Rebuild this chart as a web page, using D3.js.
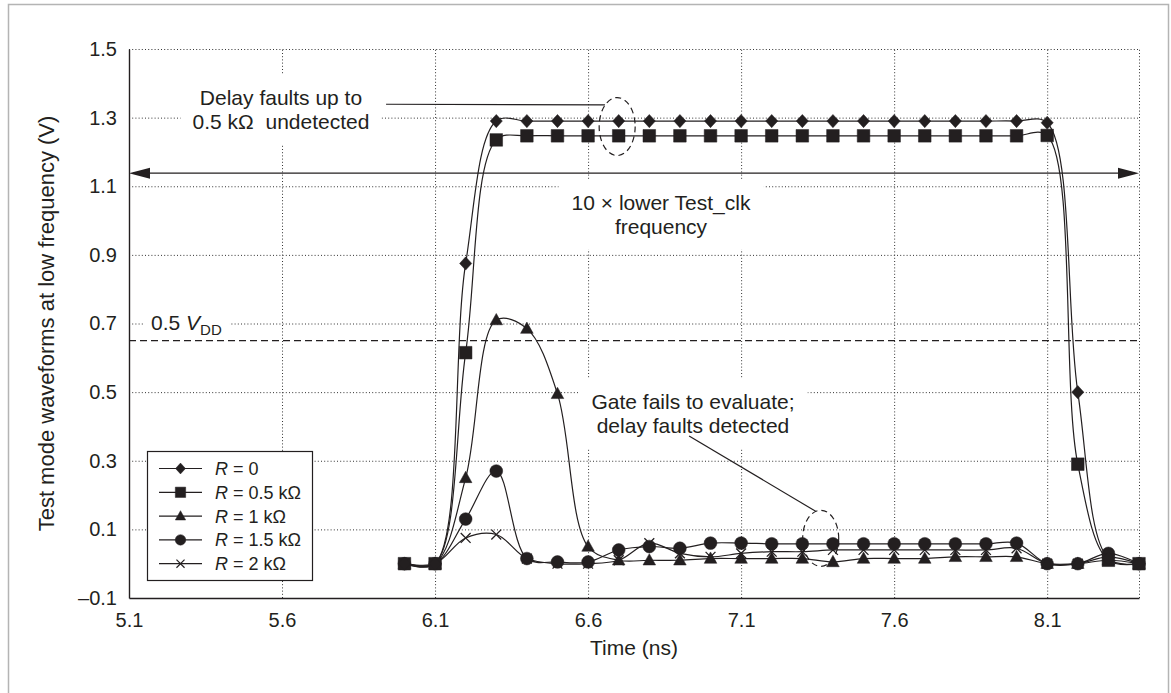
<!DOCTYPE html>
<html>
<head>
<meta charset="utf-8">
<script src="https://cdn.jsdelivr.net/npm/d3@7"></script>
<style>
  body { margin: 0; background: #fff; }
  svg { display: block; font-family: "Liberation Sans", Arial, Helvetica, sans-serif; }
  text { fill: #231f20; }
</style>
</head>
<body>
<svg id="chart" width="1171" height="693"></svg>
<script>
// sample times (ns)
var times = [6.0, 6.1, 6.2, 6.3, 6.4, 6.5, 6.6, 6.7, 6.8, 6.9, 7.0, 7.1, 7.2,
             7.3, 7.4, 7.5, 7.6, 7.7, 7.8, 7.9, 8.0, 8.1, 8.2, 8.3, 8.4];

// waveforms (V), one per bridge resistance
var r0   = [0, 0, 0.875, 1.29, 1.29, 1.29, 1.29, 1.29, 1.29, 1.29, 1.29, 1.29, 1.29,
            1.29, 1.29, 1.29, 1.29, 1.29, 1.29, 1.29, 1.29, 1.285, 0.50, 0.015, 0];
var r05  = [0, 0, 0.615, 1.235, 1.247, 1.247, 1.247, 1.247, 1.247, 1.247, 1.247, 1.247, 1.247,
            1.247, 1.247, 1.247, 1.247, 1.247, 1.247, 1.247, 1.247, 1.248, 0.29, 0.01, 0];
var r1   = [0, 0, 0.25, 0.71, 0.685, 0.495, 0.05, 0.01, 0.01, 0.01, 0.015, 0.015, 0.015,
            0.015, 0.005, 0.015, 0.015, 0.015, 0.02, 0.02, 0.02, 0, 0, 0.01, 0];
var r15  = [0, 0, 0.13, 0.27, 0.015, 0.005, 0.005, 0.04, 0.05, 0.045, 0.06, 0.06, 0.058,
            0.058, 0.058, 0.058, 0.058, 0.058, 0.058, 0.058, 0.06, 0, 0, 0.03, 0];
var r2   = [0, 0, 0.075, 0.085, 0.015, 0, 0, 0.01, 0.06, 0.03, 0.02, 0.03, 0.035,
            0.035, 0.04, 0.04, 0.04, 0.04, 0.04, 0.04, 0.045, 0, 0, 0.02, 0];

var seriesNames = ["0", "0.5 k\u03A9", "1 k\u03A9", "1.5 k\u03A9", "2 k\u03A9"];
var seriesShapes = ["diamond", "square", "triangle", "circle", "cross"];
var seriesValues = [r0, r05, r1, r15, r2];

var xTicks = [5.1, 5.6, 6.1, 6.6, 7.1, 7.6, 8.1];
var yTicks = [-0.1, 0.1, 0.3, 0.5, 0.7, 0.9, 1.1, 1.3, 1.5];
var halfVdd = 0.65;

var ink = "#231f20";
var svg = d3.select("#chart");

// outer frame
svg.append("rect")
    .attr("x", 8.5).attr("y", 4.5)
    .attr("width", 1160).attr("height", 720)
    .attr("fill", "none").attr("stroke", "#b4b4b4").attr("stroke-width", 1.5);

var x = d3.scaleLinear().domain([5.1, 8.4]).range([129, 1139]);
var y = d3.scaleLinear().domain([-0.1, 1.5]).range([598, 49]);

// dotted grid
var grid = svg.append("g").attr("stroke", "#333").attr("stroke-width", 1)
    .attr("stroke-dasharray", "1,2.2");
grid.selectAll("line.h")
    .data(yTicks.filter(function(d){ return d > -0.1; }))
    .enter().append("line")
    .attr("x1", x(5.1)).attr("x2", x(8.4))
    .attr("y1", function(d){ return y(d) + 0.5; })
    .attr("y2", function(d){ return y(d) + 0.5; });
grid.selectAll("line.v")
    .data(xTicks.slice(1).concat([8.4]))
    .enter().append("line")
    .attr("y1", y(-0.1)).attr("y2", y(1.5))
    .attr("x1", function(d){ return x(d) + 0.5; })
    .attr("x2", function(d){ return x(d) + 0.5; });

// 0.5 VDD reference
svg.append("line")
    .attr("x1", x(5.1)).attr("x2", x(8.4))
    .attr("y1", y(halfVdd)).attr("y2", y(halfVdd))
    .attr("stroke", ink).attr("stroke-width", 1.2)
    .attr("stroke-dasharray", "7,4");

// annotation text with white backing
function note(lines, cx, baseline, size, pad) {
    var g = svg.append("g");
    var t = g.append("text")
        .attr("text-anchor", "middle")
        .attr("font-size", size)
        .style("white-space", "pre");
    lines.forEach(function(l, i) {
        t.append("tspan").attr("x", cx).attr("y", baseline + i * 23.5).text(l);
    });
    var b = t.node().getBBox();
    g.insert("rect", "text")
        .attr("x", b.x - pad[0]).attr("y", b.y - pad[1])
        .attr("width", b.width + 2 * pad[0]).attr("height", b.height + 2 * pad[1])
        .attr("fill", "#fff");
    return g;
}

note(["Delay faults up to", "0.5 k\u03A9  undetected"], 281, 105, 21, [12, 12]);
note(["10 \u00D7 lower Test_clk", "frequency"], 661, 210, 21, [13, 12]);
note(["Gate fails to evaluate;", "delay faults detected"], 693, 409, 21, [13, 12]);

// 0.5 VDD label
var vdd = svg.append("g");
var vt = vdd.append("text").attr("x", 151).attr("y", 330).attr("font-size", 21);
vt.append("tspan").text("0.5 ");
vt.append("tspan").attr("font-style", "italic").text("V");
vt.append("tspan").attr("font-size", 15).attr("dy", 5).text("DD");
var vb = vt.node().getBBox();
vdd.insert("rect", "text")
    .attr("x", vb.x - 6).attr("y", vb.y - 2)
    .attr("width", vb.width + 14).attr("height", vb.height + 2)
    .attr("fill", "#fff");

// leader lines and dashed ellipses
svg.append("line")
    .attr("x1", x(5.94)).attr("y1", y(1.339))
    .attr("x2", x(6.655)).attr("y2", y(1.337))
    .attr("stroke", ink).attr("stroke-width", 1.2);
svg.append("line")
    .attr("x1", x(6.93)).attr("y1", y(0.372))
    .attr("x2", x(7.345)).attr("y2", y(0.152))
    .attr("stroke", ink).attr("stroke-width", 1.2);
svg.append("ellipse")
    .attr("cx", x(6.695)).attr("cy", y(1.274)).attr("rx", 18).attr("ry", 29)
    .attr("fill", "none").attr("stroke", ink).attr("stroke-width", 1.2)
    .attr("stroke-dasharray", "6,4");
svg.append("ellipse")
    .attr("cx", x(7.36)).attr("cy", y(0.074)).attr("rx", 18).attr("ry", 28)
    .attr("fill", "none").attr("stroke", ink).attr("stroke-width", 1.2)
    .attr("stroke-dasharray", "6,4");

// marker shapes
function shapePath(shape, s) {
    if (shape == "diamond") return "M0," + (-s) + "L" + (s * 0.92) + ",0L0," + s + "L" + (-s * 0.92) + ",0Z";
    if (shape == "square") return "M" + (-s) + "," + (-s) + "h" + (2 * s) + "v" + (2 * s) + "h" + (-2 * s) + "Z";
    if (shape == "triangle") return "M0," + (-s * 1.05) + "L" + s + "," + (s * 0.75) + "L" + (-s) + "," + (s * 0.75) + "Z";
    if (shape == "circle") return "M" + s + ",0A" + s + "," + s + " 0 1,1 " + (-s) + ",0A" + s + "," + s + " 0 1,1 " + s + ",0Z";
    var c = s * 0.85;
    return "M" + (-c) + "," + (-c) + "L" + c + "," + c + "M" + c + "," + (-c) + "L" + (-c) + "," + c;
}
var markerSize = {diamond: 6.6, square: 6.3, triangle: 6.3, circle: 6.4, cross: 5.8};

var line = d3.line()
    .x(function(d){ return x(d[0]); })
    .y(function(d){ return y(d[1]); })
    .curve(d3.curveCatmullRom.alpha(0.5));

var series = seriesValues.map(function(vals, i) {
    return { name: seriesNames[i], shape: seriesShapes[i],
             points: times.map(function(t, j){ return [t, vals[j]]; }) };
});

svg.append("g").selectAll("path")
    .data(series)
    .enter().append("path")
    .attr("d", function(d){ return line(d.points); })
    .attr("fill", "none").attr("stroke", ink).attr("stroke-width", 1.2);

series.slice().reverse().forEach(function(s) {
    svg.append("g").selectAll("path")
        .data(s.points)
        .enter().append("path")
        .attr("transform", function(d){ return "translate(" + x(d[0]) + "," + y(d[1]) + ")"; })
        .attr("d", shapePath(s.shape, markerSize[s.shape]))
        .attr("fill", s.shape == "cross" ? "none" : ink)
        .attr("stroke", ink)
        .attr("stroke-width", s.shape == "cross" ? 1.3 : 0.5);
});

// double arrow
var ay = y(1.138);
svg.append("line")
    .attr("x1", x(5.1) + 4).attr("x2", x(8.4) - 4)
    .attr("y1", ay).attr("y2", ay)
    .attr("stroke", ink).attr("stroke-width", 1.3);
svg.append("path")
    .attr("d", "M" + x(5.1) + "," + ay + "l21,-5.5v11Z")
    .attr("fill", ink);
svg.append("path")
    .attr("d", "M" + x(8.4) + "," + ay + "l-21,-5.5v11Z")
    .attr("fill", ink);

// axes
var fmt = function(d){ return d3.format(".1f")(d).replace("\u2212", "\u2013").replace("-", "\u2013"); };
var yAxis = svg.append("g")
    .attr("transform", "translate(" + x(5.1) + ",0)")
    .call(d3.axisLeft(y).tickValues(yTicks).tickSize(0).tickPadding(12).tickFormat(fmt));
var xAxis = svg.append("g")
    .attr("transform", "translate(0," + y(-0.1) + ")")
    .call(d3.axisBottom(x).tickValues(xTicks).tickSize(0).tickPadding(15).tickFormat(d3.format(".1f")));
[xAxis, yAxis].forEach(function(a) {
    a.select(".domain").attr("stroke", ink).attr("stroke-width", 1.4);
    a.selectAll("text").attr("font-size", 20).attr("font-family", null).attr("fill", ink);
});

svg.append("text")
    .attr("x", (x(5.1) + x(8.4)) / 2).attr("y", 655)
    .attr("text-anchor", "middle").attr("font-size", 21)
    .text("Time (ns)");
svg.append("text")
    .attr("transform", "translate(54," + ((y(-0.1) + y(1.5)) / 2) + ") rotate(-90)")
    .attr("text-anchor", "middle").attr("font-size", 22)
    .text("Test mode waveforms at low frequency (V)");

// legend
var legend = svg.append("g").attr("transform", "translate(147,451)");
legend.append("rect")
    .attr("x", 0.5).attr("y", 0.5).attr("width", 165).attr("height", 129)
    .attr("fill", "#fff").attr("stroke", ink).attr("stroke-width", 1.2);
var item = legend.selectAll("g.item")
    .data(series)
    .enter().append("g")
    .attr("transform", function(d, i){ return "translate(0," + (17.5 + i * 23.8) + ")"; });
item.append("line")
    .attr("x1", 12).attr("x2", 55)
    .attr("stroke", ink).attr("stroke-width", 1.2);
item.append("path")
    .attr("transform", "translate(33.5,0)")
    .attr("d", function(d){ return shapePath(d.shape, markerSize[d.shape] * 0.82); })
    .attr("fill", function(d){ return d.shape == "cross" ? "none" : ink; })
    .attr("stroke", ink)
    .attr("stroke-width", function(d){ return d.shape == "cross" ? 1.2 : 0.5; });
var lt = item.append("text")
    .attr("x", 68).attr("y", 6.5).attr("font-size", 18);
lt.append("tspan").attr("font-style", "italic").text("R");
lt.append("tspan").text(function(d){ return " = " + d.name; });
</script>
</body>
</html>
